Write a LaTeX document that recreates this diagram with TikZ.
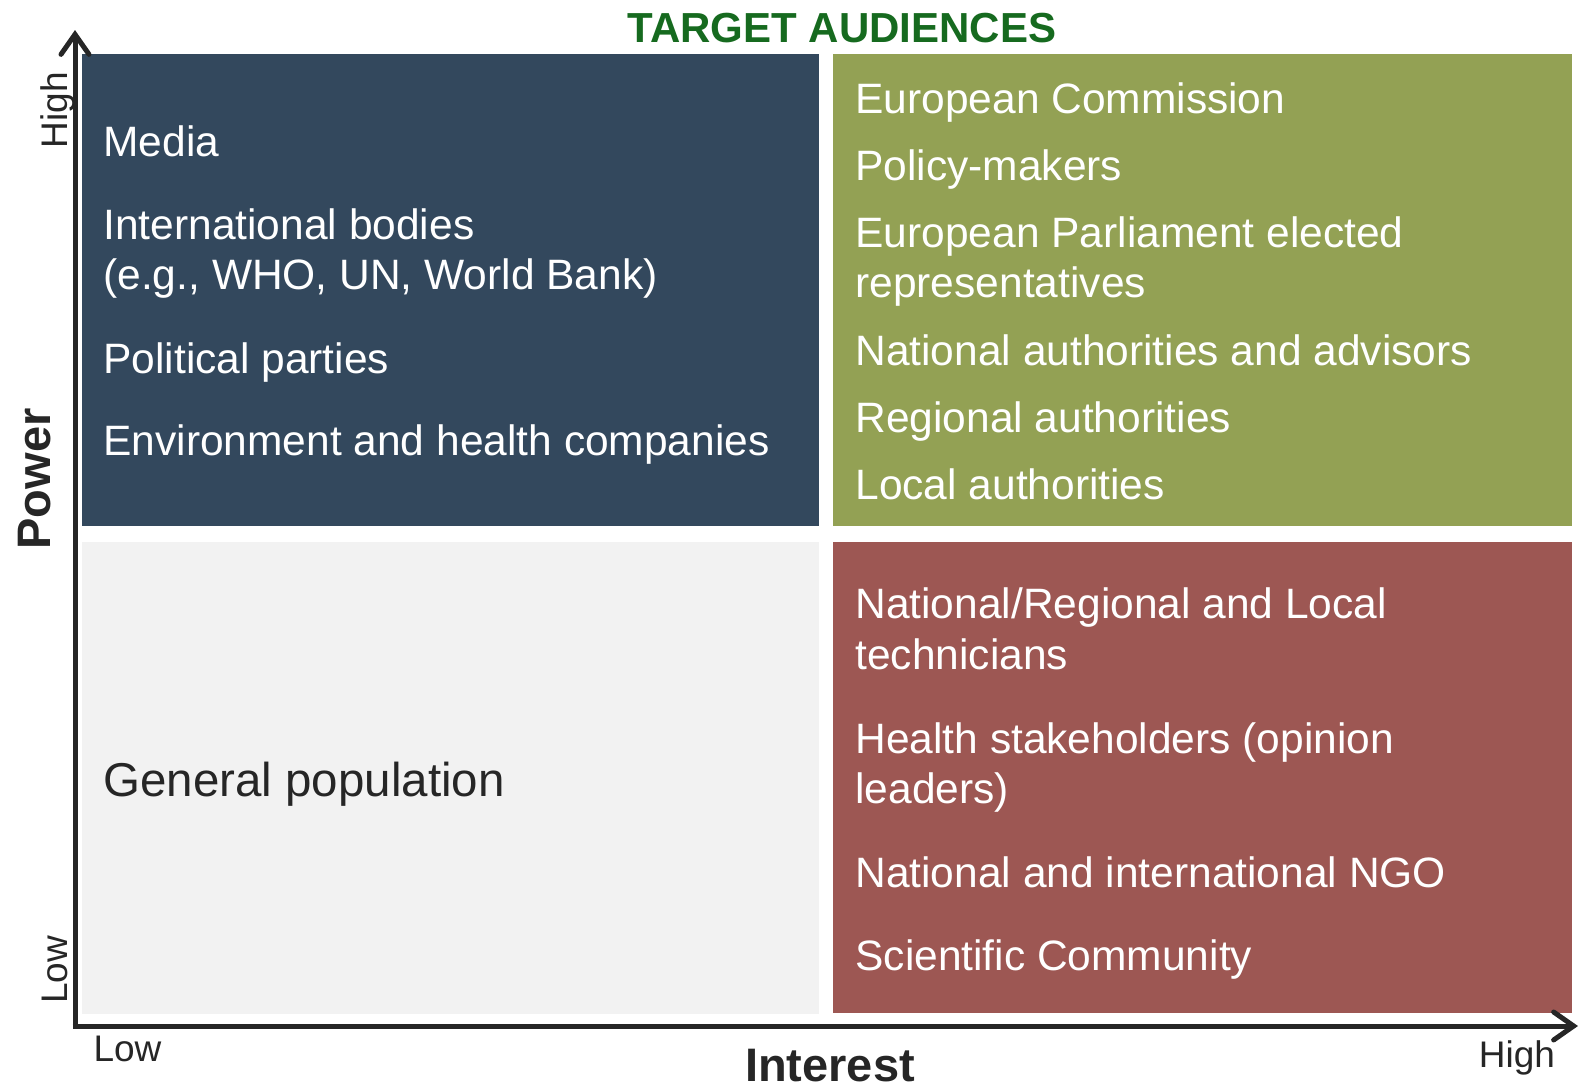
\documentclass[tikz,border=0pt]{standalone}
\usepackage{fontspec}
\setmainfont{Liberation Sans}
\usetikzlibrary{arrows.meta}
\definecolor{qblue}{RGB}{51,72,93}
\definecolor{qgreen}{RGB}{147,161,84}
\definecolor{qred}{RGB}{157,87,83}
\definecolor{qgrey}{RGB}{242,242,242}
\definecolor{titlegreen}{RGB}{22,106,31}
\definecolor{axisc}{RGB}{38,38,38}
\tikzset{
  item/.style={anchor=base west, inner sep=0pt, text=white, font=\fontsize{21.25pt}{25pt}\selectfont},
  gen/.style={anchor=base west, inner sep=0pt, text=axisc, font=\fontsize{23.75pt}{28pt}\selectfont},
  axislbl/.style={anchor=base, inner sep=0pt, text=axisc, font=\fontsize{18.5pt}{22pt}\selectfont},
  axistitle/.style={anchor=base, inner sep=0pt, text=axisc, font=\bfseries\fontsize{23.5pt}{28pt}\selectfont},
  axisline/.style={draw=axisc, line width=2.5pt, -{Straight Barb[length=10pt,width=14pt,line width=2.5pt,line cap=round]}}
}
\begin{document}
\begin{tikzpicture}[x=0.5pt,y=-0.5pt]
\useasboundingbox (0,0) rectangle (1581,1088);
% quadrants
\fill[qblue] (82,54) rectangle (819,526);
\fill[qgreen] (833,54) rectangle (1572,526);
\fill[qgrey] (82,542) rectangle (819,1014);
\fill[qred] (833,542) rectangle (1572,1013);
% axes
\coordinate (origin) at (75,1026);
\coordinate (ytip) at (75,30);
\coordinate (xtip) at (1578,1026);
\draw[axisline] (origin) -- (ytip);
\draw[axisline] ([xshift=-1.25pt]origin) -- (xtip);
% title
\node[anchor=base, inner sep=0pt, text=titlegreen, font=\bfseries\fontsize{21pt}{25pt}\selectfont] (title) at (842,42) {TARGET AUDIENCES};
% axis labels
\node[axistitle, rotate=90] (power) at (50,479) {Power};
\node[axistitle] (interest) at (830,1081) {Interest};
\node[axislbl, rotate=90] (yhigh) at (67,110) {High};
\node[axislbl, rotate=90] (ylow) at (68,970) {Low};
\node[axislbl] (xlow) at (127.5,1061) {Low};
\node[axislbl] (xhigh) at (1517,1067) {High};
% top-left
\node[item] (media) at (103,156) {Media};
\node[item] (intl1) at (103,239) {International bodies};
\node[item] (intl2) at (103,289) {(e.g., WHO, UN, World Bank)};
\node[item] (pol) at (103,373) {Political parties};
\node[item] (env) at (103,455) {Environment and health companies};
% top-right
\node[item] (ec) at (855,113) {European Commission};
\node[item] (pm) at (855,180) {Policy-makers};
\node[item] (ep1) at (855,247) {European Parliament elected};
\node[item] (ep2) at (855,297) {representatives};
\node[item] (nat) at (855,365) {National authorities and advisors};
\node[item] (reg) at (855,432) {Regional authorities};
\node[item] (loc) at (855,499) {Local authorities};
% bottom-right
\node[item] (tech1) at (855,618) {National/Regional and Local};
\node[item] (tech2) at (855,669) {technicians};
\node[item] (hs1) at (855,753) {Health stakeholders (opinion};
\node[item] (hs2) at (855,803) {leaders)};
\node[item] (ngo) at (855,887) {National and international NGO};
\node[item] (sci) at (855,970) {Scientific Community};
% bottom-left
\node[gen] (gp) at (103,796) {General population};
\end{tikzpicture}
\end{document}
